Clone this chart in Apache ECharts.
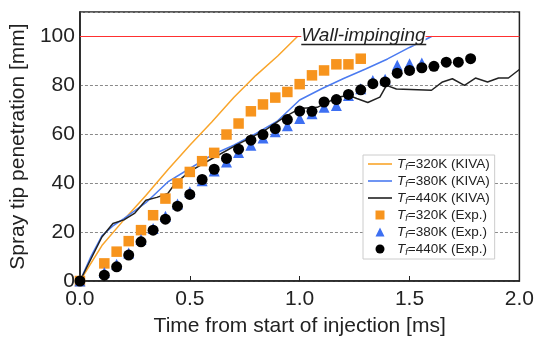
<!DOCTYPE html>
<html>
<head>
<meta charset="utf-8">
<script src="https://cdn.jsdelivr.net/npm/echarts@6/dist/echarts.min.js"></script>
<style>
  html, body { margin: 0; padding: 0; background: #fff; }
  #main { width: 537px; height: 345px; }
</style>
</head>
<body>
<div id="main"></div>
<script>
// KIVA calculations (lines)
var kiva320Time = [0, 0.1, 0.2, 0.3, 0.4, 0.5, 0.6, 0.7, 0.8, 0.9, 0.99];
var kiva320 = [0, 14.5, 25, 35, 45.5, 55.5, 65, 75, 84, 92, 100];

var kiva380Time = [0, 0.05, 0.1, 0.15, 0.2, 0.3, 0.4, 0.5, 0.6, 0.7, 0.8, 0.9, 1.0, 1.1, 1.2, 1.3, 1.4, 1.5, 1.6];
var kiva380 = [0, 10, 18.5, 22.5, 25.5, 32, 40.5, 46, 51.5, 55.5, 60.3, 65.5, 74, 78.6, 82.8, 86.7, 90.8, 95.5, 100];

var kiva440Time = [0, 0.1, 0.15, 0.2, 0.25, 0.3, 0.35, 0.4, 0.43, 0.5, 0.6, 0.72, 0.84, 0.93, 1.0, 1.08, 1.17, 1.22, 1.26, 1.31, 1.365, 1.395, 1.44, 1.6, 1.65, 1.695, 1.75, 1.8, 1.855, 1.905, 1.95, 2.0];
var kiva440 = [0, 18, 23.5, 25, 27.8, 33, 34.2, 35.8, 39.5, 44.8, 50, 56, 61.5, 67, 70.5, 71, 75, 76, 74.6, 73, 75.2, 80, 78.5, 78, 81.4, 82.7, 80, 83, 81.4, 83, 83, 86.5];

// experiments (markers)
var expTime = [0, 0.111, 0.167, 0.222, 0.278, 0.333, 0.389, 0.444, 0.5, 0.556, 0.611, 0.667, 0.722, 0.778, 0.833, 0.889, 0.944, 1.0, 1.056, 1.111, 1.167, 1.222, 1.278, 1.333, 1.389, 1.444, 1.5, 1.556, 1.611, 1.667, 1.722, 1.778];
var exp320 = [0, 7.2, 12, 16.3, 20.8, 26.9, 33.7, 39.9, 44.6, 49, 52.4, 59.9, 64.4, 69.4, 72.2, 75, 77.3, 80.5, 84.1, 86.1, 88.6, 88.6, 90.9];
var exp380 = [0, 3.5, 6.8, 11.5, 17, 21.5, 26.5, 31.5, 36.5, 41, 45, 48.7, 52.5, 55.5, 58.5, 61, 63.5, 66.4, 68.4, 71.1, 71.8, 75.9, 78.6, 82, 82.5, 88.2, 88.8, 89.1];
var exp440 = [0, 2.4, 5.8, 10.6, 16, 20.8, 25.3, 30.6, 35.4, 41.5, 45.7, 50.1, 53.9, 57.6, 59.9, 62.3, 66, 69.5, 69.4, 73.2, 74.2, 76.3, 78.2, 80.7, 81.4, 85, 86.1, 87.2, 87.8, 89.5, 89.5, 90.9];

var xTicks = ['0.0', '0.5', '1.0', '1.5', '2.0'];
var yTicks = [0, 20, 40, 60, 80, 100];
var wallValue = 100;
var seriesNames = ['320K (KIVA)', '380K (KIVA)', '440K (KIVA)', '320K (Exp.)', '380K (Exp.)', '440K (Exp.)'];

function pairs(xs, ys) {
  var out = [];
  for (var i = 0; i < ys.length; i++) out.push([xs[i], ys[i]]);
  return out;
}

var chart = echarts.init(document.getElementById('main'), null, { renderer: 'canvas' });
var font = 'Liberation Sans, Arial, sans-serif';
var lineIcon = 'path://M0,0L24,0L24,1.6L0,1.6Z';

var option = {
  animation: false,
  textStyle: { fontFamily: font },
  grid: {
    left: 77, right: 16, top: 12, bottom: 64,
    show: true, borderColor: '#222', borderWidth: 1.5
  },
  legend: {
    orient: 'vertical',
    left: 363, top: 155,
    padding: [2, 5, 2, 5],
    itemWidth: 24, itemHeight: 9, itemGap: 2,
    backgroundColor: '#fff',
    borderColor: '#ccc', borderWidth: 1,
    data: [
      { name: seriesNames[0], icon: lineIcon },
      { name: seriesNames[1], icon: lineIcon },
      { name: seriesNames[2], icon: lineIcon },
      { name: seriesNames[3], icon: 'path://M0,0L10,0L10,10L0,10Z' },
      { name: seriesNames[4], icon: 'path://M5,0L10,10L0,10Z' },
      { name: seriesNames[5], icon: 'circle' }
    ],
    formatter: function (name) {
      return '{i|T}{s|f}{n|=' + name + '}';
    },
    textStyle: {
      color: '#222',
      rich: {
        i: { fontStyle: 'italic', fontSize: 13.5, lineHeight: 16, color: '#222', fontFamily: font },
        s: { fontStyle: 'italic', fontSize: 9, lineHeight: 16, verticalAlign: 'bottom', color: '#222', fontFamily: font },
        n: { fontSize: 13.5, lineHeight: 16, color: '#222', fontFamily: font }
      }
    }
  },
  xAxis: {
    type: 'value',
    min: 0, max: 2, interval: 0.5,
    name: 'Time from start of injection [ms]',
    nameLocation: 'middle', nameGap: 35,
    nameTextStyle: { fontSize: 21, color: '#222', fontFamily: font },
    axisLine: { lineStyle: { color: '#222', width: 1.5 } },
    axisTick: { inside: true, length: 5, lineStyle: { color: '#222' } },
    axisLabel: {
      fontSize: 21, color: '#222', margin: 8, fontFamily: font,
      formatter: function (v) { return xTicks[Math.round(v / 0.5)]; }
    },
    splitLine: { show: false }
  },
  yAxis: {
    type: 'value',
    min: 0, max: 110, interval: 20,
    name: 'Spray tip penetration [mm]',
    nameLocation: 'middle', nameGap: 49,
    nameTextStyle: { fontSize: 21, color: '#222', fontFamily: font },
    axisLine: { lineStyle: { color: '#222', width: 1.5 } },
    axisTick: { show: false },
    axisLabel: {
      fontSize: 21, color: '#222', margin: 5, fontFamily: font,
      formatter: function (v) { return yTicks.indexOf(v) >= 0 ? String(v) : ''; }
    },
    splitLine: { lineStyle: { color: '#8a8a8a', width: 1, type: [3, 2] } }
  },
  series: [
    {
      name: seriesNames[0], type: 'line', symbol: 'none',
      data: pairs(kiva320Time, kiva320),
      lineStyle: { color: '#f9a52b', width: 1.5 },
      itemStyle: { color: '#f9a52b' },
      markLine: {
        silent: true, symbol: 'none',
        label: { show: false },
        lineStyle: { color: '#ff3030', width: 1, type: 'solid' },
        data: [{ yAxis: wallValue }]
      },
      markPoint: {
        silent: true,
        symbol: 'rect', symbolSize: 1,
        itemStyle: { color: 'transparent' },
        label: {
          show: true, position: 'right', distance: 0, offset: [0, 0],
          formatter: '{t|Wall-impinging}\n{u|}',
          rich: {
            t: { fontSize: 19, fontStyle: 'italic', color: '#222', backgroundColor: '#fff', lineHeight: 16, fontFamily: font },
            u: { width: 125, height: 1.5, backgroundColor: '#222' }
          }
        },
        data: [{ coord: [1.005, wallValue] }]
      },
      z: 2
    },
    {
      name: seriesNames[1], type: 'line', symbol: 'none',
      data: pairs(kiva380Time, kiva380),
      lineStyle: { color: '#4b7bf0', width: 1.5 },
      itemStyle: { color: '#4b7bf0' },
      z: 3
    },
    {
      name: seriesNames[2], type: 'line', symbol: 'none',
      data: pairs(kiva440Time, kiva440),
      lineStyle: { color: '#222', width: 1.5 },
      itemStyle: { color: '#222' },
      z: 3
    },
    {
      name: seriesNames[3], type: 'scatter', symbol: 'rect', symbolSize: 10.5,
      data: pairs(expTime, exp320),
      itemStyle: { color: '#f7941d', opacity: 1 },
      z: 4
    },
    {
      name: seriesNames[4], type: 'scatter', symbol: 'triangle', symbolSize: 11,
      data: pairs(expTime, exp380),
      itemStyle: { color: '#3d6ff2', opacity: 1 },
      z: 5
    },
    {
      name: seriesNames[5], type: 'scatter', symbol: 'circle', symbolSize: 11,
      data: pairs(expTime, exp440),
      itemStyle: { color: '#000', opacity: 1 },
      z: 6
    }
  ]
};

chart.setOption(option);
</script>
</body>
</html>
